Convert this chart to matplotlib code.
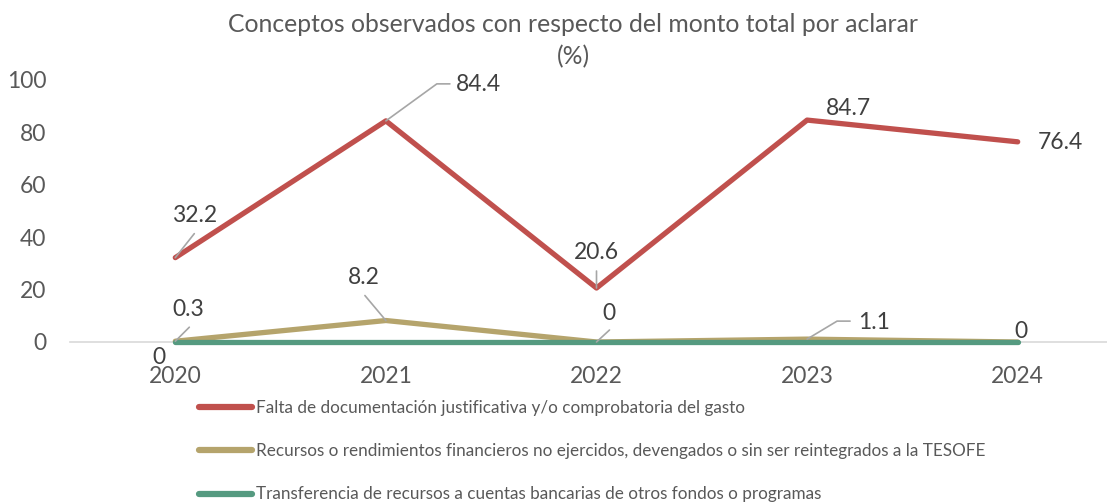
import matplotlib
matplotlib.use("Agg")
import matplotlib.pyplot as plt

plt.rcParams['font.family'] = ['Lato', 'DejaVu Sans']

years = ['2020', '2021', '2022', '2023', '2024']
falta_doc = [32.2, 84.4, 20.6, 84.7, 76.4]
recursos_no_ejercidos = [0.3, 8.2, 0, 1.1, 0]
transferencia = [0, 0, 0, 0, 0]

series_names = [
    'Falta de documentación justificativa y/o comprobatoria del gasto',
    'Recursos o rendimientos financieros no ejercidos, devengados o sin ser reintegrados a la TESOFE',
    'Transferencia de recursos a cuentas bancarias de otros fondos o programas',
]
colors = ['#C0504D', '#B5A46C', '#559A80']
txt = '#404040'
grey = '#595959'
lead = '#A6A6A6'

fig = plt.figure(figsize=(11.07, 5.04), dpi=100)
W, H = 1107, 504
ax = fig.add_axes([70 / W, (H - 342) / H, 1053 / W, 262 / H])

x = list(range(len(years)))
for vals, c, name in zip([falta_doc, recursos_no_ejercidos, transferencia], colors, series_names):
    ax.plot(x, vals, color=c, lw=3.8, solid_capstyle='round', solid_joinstyle='round',
            label=name, clip_on=False)

ax.set_xlim(-0.5, len(years) - 0.5)
ax.set_ylim(0, 100)
ax.set_yticks(range(0, 101, 20))
ax.set_xticks(x)
ax.set_xticklabels(years)
ax.tick_params(axis='both', length=0, labelsize=16.5, labelcolor=grey)
ax.tick_params(axis='x', pad=17)
ax.tick_params(axis='y', pad=17)
for s in ['left', 'right', 'top']:
    ax.spines[s].set_visible(False)
ax.spines['bottom'].set_color('#D9D9D9')
ax.spines['bottom'].set_linewidth(1.2)
ax.spines['bottom'].set_zorder(0)


def px(dx, dy):
    # pixel offsets (y down) -> points
    return (dx * 0.72, -dy * 0.72)


# (series, index, text offset px, leader end offset px, elbow angle or None)
labels = [
    (falta_doc, 0, (19, -42), (19, -24), None),
    (falta_doc, 1, (93, -36), (64, -37), 36),
    (falta_doc, 2, (0, -36), (0, -17), None),
    (falta_doc, 3, (41, -12), None, None),
    (falta_doc, 4, (43, 1), None, None),
    (recursos_no_ejercidos, 0, (13, -32), (14, -14), None),
    (recursos_no_ejercidos, 1, (-22, -43), (-21, -25), None),
    (recursos_no_ejercidos, 2, (12, -29), (13, -12), None),
    (recursos_no_ejercidos, 3, (67, -17), (43, -18), 31),
    (recursos_no_ejercidos, 4, (3, -11), None, None),
    (transferencia, 0, (-16, 15), None, None),
]
for vals, i, off, lend, elbow in labels:
    v = vals[i]
    ax.annotate(f'{v:g}', xy=(i, v), xytext=px(*off), textcoords='offset points',
                ha='center', va='center', fontsize=16.5, color=txt, annotation_clip=False)
    if lend is not None:
        ap = dict(arrowstyle='-', color=lead, lw=1.2, shrinkA=0, shrinkB=0)
        if elbow is not None:
            ap['connectionstyle'] = f'angle,angleA=0,angleB={elbow},rad=0'
        ax.annotate('', xy=(i, v), xytext=px(*lend), textcoords='offset points',
                    arrowprops=ap, annotation_clip=False)

fig.text(573 / W, 1 - 25 / H, 'Conceptos observados con respecto del monto total por aclarar',
         ha='center', va='center', fontsize=17.8, color=grey)
fig.text(573 / W, 1 - 57 / H, '(%)', ha='center', va='center', fontsize=17.8, color=grey)

leg = fig.legend(loc='upper left', bbox_to_anchor=(192 / W, 1 - 393 / H), frameon=False,
                 fontsize=12.3, labelcolor=grey, handlelength=3.1, handletextpad=0.25,
                 labelspacing=1.6, borderaxespad=0)
for h in leg.get_lines():
    h.set_linewidth(4.5)
    h.set_solid_capstyle('round')

fig.savefig('out.png', dpi=100)
